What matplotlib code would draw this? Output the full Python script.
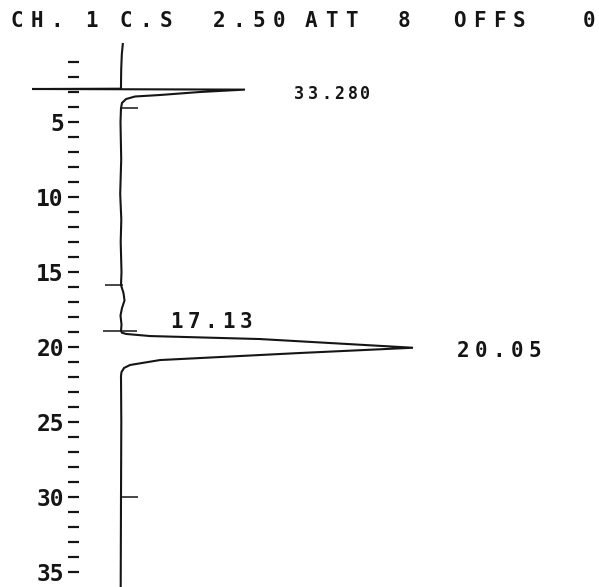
import matplotlib
matplotlib.use("Agg")
import matplotlib.pyplot as plt
from matplotlib.ticker import FixedLocator

W, H = 599, 587
INK = "#151515"

# integrator header line
header_tokens = ["CH.", "1", "C.S", "2.50", "ATT", "8", "OFFS", "0"]

# retention axis (minutes)
major_ticks = [5, 10, 15, 20, 25, 30, 35]
minor_ticks = [m for m in range(1, 36) if m % 5]

# detector trace: time (min) vs pen deflection (chart units, baseline = 0)
apex_time = 20.05
trace_time = [-0.2, 0.5, 1.5, 2.5, 2.78, 2.80, 2.84, 3.0, 3.2, 3.3, 3.47, 3.73, 4.07,
              5.0, 7.5, 9.8, 11.5, 13.0, 15.0, 15.87, 16.4, 16.9, 17.4, 17.9, 18.5, 18.93,
              19.05, 19.13, 19.27, 19.47, 19.75, apex_time, 20.4, 20.87, 21.2, 21.4, 21.67,
              21.93, 25.0, 30.0, 36.0]
trace_signal = [1.8, 0.8, 0.2, 0.0, 0.0, -89, 124, 79, 39, 14, 5, 1, 0,
                -0.5, 0.2, -0.8, 0.3, -0.3, 0.5, 0.0, 2.5, 3.5, 1.0, -0.5, 0.5, 0.0,
                1, 5, 29, 139, 213, 292, 179, 39, 9, 3, 0.5,
                0.0, 0.3, 0.0, -0.3]

# event marks printed by the integrator
event_time = [4.07, 15.87, 18.93, 30.0]
event_from = [0, -16, -18, 0]
event_to = [17, 2, 16, 17]

# printed peak annotations
solvent_label = "33.280"
start_label = "17.13"
apex_label = f"{apex_time:.2f}"

plt.rcParams["font.family"] = ["DejaVu Sans Mono"]

fig = plt.figure(figsize=(W / 100, H / 100), dpi=100)
fig.patch.set_facecolor("white")

ax = fig.add_axes([68 / W, 0, (W - 68) / W, 1])
ax.set_xlim(-53, 478)
ax.set_ylim(36.0, -47 / 15)
ax.patch.set_alpha(0)
for sp in ax.spines.values():
    sp.set_visible(False)

ax.plot(trace_signal, trace_time, color=INK, lw=1.5, clip_on=False,
        solid_joinstyle="miter")
ax.hlines(event_time, event_from, event_to, color=INK, lw=1.1)

ax.set_xticks([])
ax.yaxis.set_major_locator(FixedLocator(major_ticks))
ax.yaxis.set_minor_locator(FixedLocator(minor_ticks))
ax.tick_params(axis="y", which="both", direction="in", length=8, width=1.6,
               color=INK, labelcolor=INK, labelsize=16.5, pad=3)
for lab in ax.get_yticklabels():
    lab.set_fontweight("bold")


def dot_text(x0, y0, s, pitch, size=14.5, weight="bold"):
    # printer text: one character per fixed-width cell, x0 = first cell centre, y0 = baseline (px from top)
    for i, ch in enumerate(s):
        if ch == " ":
            continue
        fig.text((x0 + i * pitch) / W, 1 - y0 / H, ch, ha="center", va="baseline",
                 fontsize=size, color=INK, fontweight=weight)


header_x = [17, 91, 126, 219, 311, 404, 459, 589]
for tok, x in zip(header_tokens, header_x):
    dot_text(x, 27, tok, 20, size=15)

dot_text(176, 328, start_label, 17.5, size=15)
dot_text(463, 357, apex_label, 18, size=15)

# overprinted area figure next to the solvent peak
dot_text(299, 99, solvent_label[:5], 13.5, size=12)
dot_text(365, 99, solvent_label[5:], 13.5, size=12)

fig.savefig("out.png", dpi=100, facecolor="white")
